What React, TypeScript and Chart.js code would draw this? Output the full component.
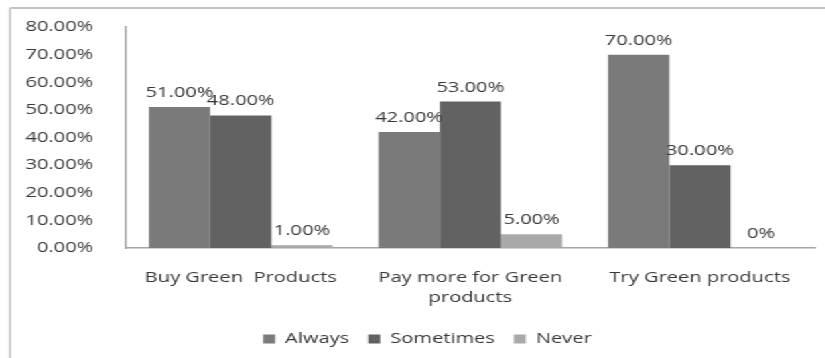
import React, { useEffect, useRef } from "react";
import { Chart, registerables } from "chart.js";

Chart.register(...registerables);

// ---- data ----
const categories: string[][] = [
  ["Buy Green  Products"],
  ["Pay more for Green", "products"],
  ["Try Green products"],
];
const seriesNames = ["Always", "Sometimes", "Never"];
const alwaysValues = [51, 42, 70];
const sometimesValues = [48, 53, 30];
const neverValues = [1, 5, 0];
const seriesColors = ["#7a7a7a", "#626262", "#a9a9a9"];
const yMin = 0;
const yMax = 80;
const yStep = 10;

// ---- layout (screen px), canvas is stretched horizontally like the reference ----
const SCREEN_W = 825;
const SCREEN_H = 358;
const STRETCH = 1.34;
const CANVAS_W = Math.round(SCREEN_W / STRETCH);
const FONT = "'Open Sans', sans-serif";
const TEXT_COLOR = "#383838";
const LEGEND_SHIFT = 15;

const fmt = (v: number) => (v === 0 ? "0%" : v.toFixed(2) + "%");

const outerBorder = {
  id: "outerBorder",
  beforeDraw(chart: any) {
    const ctx = chart.ctx;
    ctx.save();
    ctx.strokeStyle = "#c4c4c4";
    ctx.lineWidth = 1.5;
    ctx.beginPath();
    ctx.moveTo(10 / STRETCH, SCREEN_H);
    ctx.lineTo(10 / STRETCH, 8);
    ctx.stroke();
    ctx.lineWidth = 2;
    ctx.beginPath();
    ctx.moveTo(10 / STRETCH, 8);
    ctx.lineTo(chart.width, 8);
    ctx.stroke();
    ctx.restore();
  },
};

const legendOffset = {
  id: "legendOffset",
  afterLayout(chart: any) {
    if (chart.legend) {
      chart.legend.left += LEGEND_SHIFT;
      chart.legend.right += LEGEND_SHIFT;
    }
  },
};

const dataLabels = {
  id: "dataLabels",
  afterDatasetsDraw(chart: any) {
    const ctx = chart.ctx;
    ctx.save();
    ctx.font = `15px ${FONT}`;
    ctx.fillStyle = TEXT_COLOR;
    ctx.textAlign = "center";
    ctx.textBaseline = "alphabetic";
    chart.data.datasets.forEach((ds: any, i: number) => {
      const meta = chart.getDatasetMeta(i);
      meta.data.forEach((el: any, j: number) => {
        const v = ds.data[j] as number;
        ctx.fillText(fmt(v), el.x, el.y - 10);
      });
    });
    ctx.restore();
  },
};

export default function App() {
  const ref = useRef<HTMLCanvasElement | null>(null);

  useEffect(() => {
    if (!ref.current) return;
    const values = [alwaysValues, sometimesValues, neverValues];
    const chart = new Chart(ref.current, {
      type: "bar",
      data: {
        labels: categories,
        datasets: seriesNames.map((name, i) => ({
          label: name,
          data: values[i],
          backgroundColor: seriesColors[i],
          borderWidth: 0,
          categoryPercentage: 0.8,
          barPercentage: 1.0,
        })),
      },
      options: {
        responsive: false,
        animation: false,
        devicePixelRatio: 1,
        layout: { padding: { top: 27, right: 8, left: 0, bottom: 1.5 } },
        plugins: {
          tooltip: { enabled: false },
          legend: {
            position: "bottom",
            labels: {
              boxWidth: 9,
              boxHeight: 9,
              padding: 14,
              color: TEXT_COLOR,
              font: { family: FONT, size: 15 },
            },
          },
        },
        scales: {
          x: {
            grid: { display: false },
            border: { display: true, color: "#a6a6a6", width: 1.5 },
            ticks: {
              color: TEXT_COLOR,
              font: { family: FONT, size: 15, lineHeight: 1.33 },
              padding: 12,
              maxRotation: 0,
              autoSkip: false,
            },
            afterFit(scale: any) {
              scale.height = 69.5;
            },
          },
          y: {
            min: yMin,
            max: yMax,
            grid: { display: false },
            border: { display: true, color: "#a6a6a6", width: 1.5 },
            ticks: {
              stepSize: yStep,
              color: TEXT_COLOR,
              font: { family: FONT, size: 15 },
              padding: 22 / STRETCH,
              callback: (v: any) => Number(v).toFixed(2) + "%",
            },
            afterFit(scale: any) {
              scale.width = 126 / STRETCH;
            },
          },
        },
      },
      plugins: [outerBorder, legendOffset, dataLabels],
    });
    return () => chart.destroy();
  }, []);

  return (
    <div
      style={{
        position: "absolute",
        left: 0,
        top: 0,
        width: CANVAS_W,
        height: SCREEN_H,
        transform: `scaleX(${STRETCH})`,
        transformOrigin: "left top",
        background: "#ffffff",
      }}
    >
      <canvas ref={ref} width={CANVAS_W} height={SCREEN_H} />
    </div>
  );
}
